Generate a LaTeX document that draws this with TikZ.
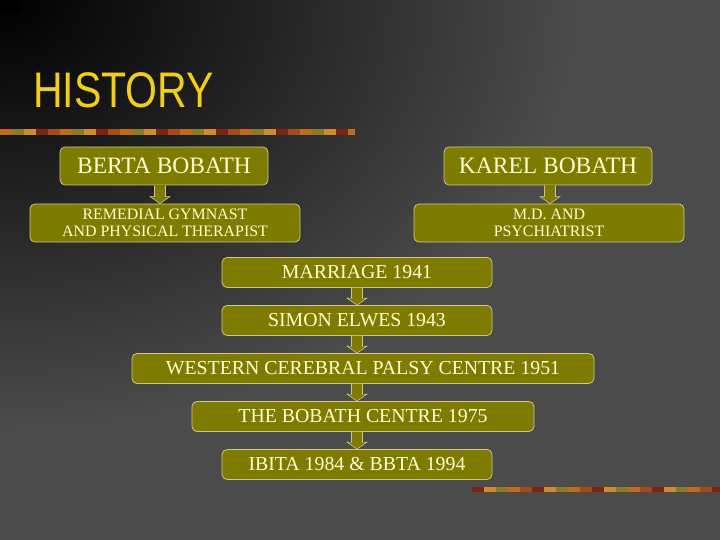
\documentclass[tikz,border=0pt]{standalone}
\usepackage{fontspec}
\setmainfont{Liberation Serif}
\newfontfamily\titlefont[FakeStretch=0.82]{Liberation Sans}
\usetikzlibrary{calc}

\definecolor{slidebg}{HTML}{4B4B4B}
\definecolor{boxfill}{HTML}{7E7C00}
\definecolor{boxline}{HTML}{C8C890}
\definecolor{boxtext}{HTML}{FFFFD0}
\definecolor{titleyellow}{HTML}{F2CE1A}
\definecolor{stripe0}{HTML}{C06A1E}
\definecolor{stripe1}{HTML}{7A2412}
\definecolor{stripe2}{HTML}{8A7A2A}
\definecolor{stripe3}{HTML}{A84A18}
\definecolor{stripe4}{HTML}{D08A30}

\tikzset{
  stage/.style={draw=boxline,line width=0.8pt,fill=boxfill,rounded corners=5pt,
    text=boxtext,align=center,inner sep=0pt},
  flowarrow/.style={draw=boxline,line width=0.6pt,fill=boxfill}
}

\begin{document}
\begin{tikzpicture}[x=1pt,y=-1pt]
    % background
    \useasboundingbox (0,0) rectangle (720,540);
    \fill[slidebg] (0,0) rectangle (720,540);
    \begin{scope}
      \clip (0,0) rectangle (720,540);
      \shade[inner color=black,outer color=slidebg] (0,0) ellipse (580 and 430);
      \fill[black] (0,0) rectangle (20,14);
    \end{scope}

    % title and stripes
    \node[anchor=base west,inner sep=0pt,text=titleyellow,font=\titlefont\fontsize{50}{50}\selectfont]
      (title) at (33,108) {HISTORY};
    \foreach \i [evaluate=\i as \c using {int(mod(\i*7,5))}] in {0,...,28}
      \fill[stripe\c] (\i*12,129) rectangle (\i*12+12.5,135);
    \fill[stripe0] (348,129) rectangle (355,135);
    \foreach \i [evaluate=\i as \c using {int(mod(\i*3+1,5))}] in {0,...,20}
      \fill[stripe\c] (472+\i*12,487) rectangle (484.5+\i*12,492);

    % boxes
    \begin{scope}[every node/.style={stage}]
      \node[minimum width=208,minimum height=38,font=\fontsize{23.5}{25}\selectfont] (berta) at (164,166) {BERTA BOBATH};
      \node[minimum width=208,minimum height=38,font=\fontsize{23.5}{25}\selectfont] (karel) at (548,166) {KAREL BOBATH};
      \node[minimum width=270,minimum height=38,font=\fontsize{15.9}{17}\selectfont] (remedial) at (165,223) {REMEDIAL GYMNAST\\AND PHYSICAL THERAPIST};
      \node[minimum width=270,minimum height=38,font=\fontsize{15.9}{17}\selectfont] (md) at (549,223) {M.D. AND\\PSYCHIATRIST};
      \node[minimum width=270,minimum height=30,font=\fontsize{19.8}{21}\selectfont] (marriage) at (357,272.5) {MARRIAGE 1941};
      \node[minimum width=270,minimum height=30,font=\fontsize{19.8}{21}\selectfont] (simon) at (357,320.5) {SIMON ELWES 1943};
      \node[minimum width=462,minimum height=30,font=\fontsize{19.8}{21}\selectfont] (western) at (363,368.5) {WESTERN CEREBRAL PALSY CENTRE 1951};
      \node[minimum width=342,minimum height=30,font=\fontsize{19.8}{21}\selectfont] (centre) at (363,416.5) {THE BOBATH CENTRE 1975};
      \node[minimum width=270,minimum height=30,font=\fontsize{19.8}{21}\selectfont] (ibita) at (357,464.5) {IBITA 1984 \& BBTA 1994};
    \end{scope}

    % block arrows
    \foreach \from/\to/\dx in {berta/remedial/-4,karel/md/2,marriage/simon/0,
        simon/western/0,western/centre/-6,centre/ibita/-6}
      \draw[flowarrow] let \p1=($(\from.south)+(\dx,0)$), \p2=(\to.north) in
        (\x1-5.5pt,\y1) -- (\x1-5.5pt,\y2+7pt) -- (\x1-10pt,\y2+7pt) -- (\x1,\y2)
        -- (\x1+10pt,\y2+7pt) -- (\x1+5.5pt,\y2+7pt) -- (\x1+5.5pt,\y1);
\end{tikzpicture}
\end{document}
